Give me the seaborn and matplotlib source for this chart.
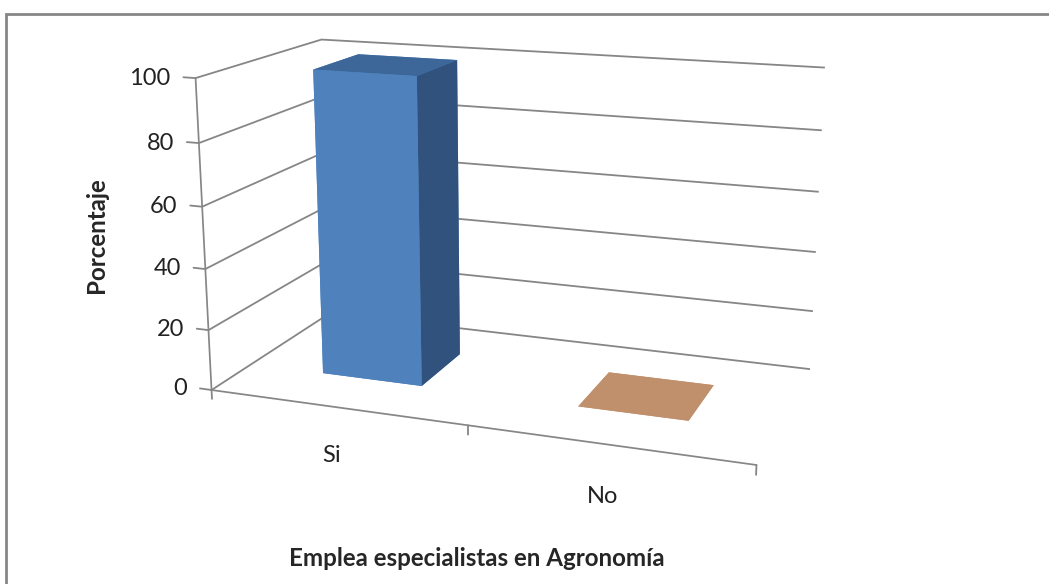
import numpy as np
import matplotlib
matplotlib.use("Agg")
import matplotlib.pyplot as plt
import seaborn as sns
from matplotlib.patches import Rectangle
from mpl_toolkits.mplot3d import proj3d

categorias = ["Si", "No"]
porcentaje = [100, 0]
ticks_z = [0, 20, 40, 60, 80, 100]
titulo_x = "Emplea especialistas en Agronomía"
titulo_y = "Porcentaje"

sns.set_theme(style="white", rc={"xtick.bottom": True, "ytick.left": True})
plt.rcParams['font.family'] = ['Lato', 'DejaVu Sans']

gris = "#868686"
texto = "#222222"
# colores por cara: -z, +z, -y(frente), +y, -x, +x(lado)
caras_si = sns.color_palette(["#4F81BD", "#3D6799", "#4F81BD", "#4F81BD", "#4F81BD", "#31527D"])
caras_no = sns.color_palette(["#C0906C"] * 6)

fig = plt.figure(figsize=(10.49, 5.84), dpi=100)
S = 673
cx, cy = 507, 239
ax = fig.add_axes([cx / 1049 - S / 2098, 1 - cy / 584 - S / 1168, S / 1049, S / 584],
                  projection='3d')
ax.set_proj_type('persp', focal_length=0.45)
ax.view_init(elev=15, azim=-70)
ax.set_box_aspect((5.6, 2.7, 3.2))

n = len(categorias)
xs = np.arange(n) - 0.2
ax.bar3d(xs, [0.31] * n, [0] * n, [0.4] * n, [0.387] * n, porcentaje,
         color=list(caras_si) + list(caras_no), shade=False, linewidth=0)

# marcas de separacion entre categorias en el borde frontal
for b in np.arange(n + 1) - 0.5:
    ax.plot([b, b], [0, 0], [0, -3], color=gris, linewidth=1.3)

ax.set_xlim(-0.5, n - 0.5)
ax.set_ylim(0, 1)
ax.set_zlim(0, 100)
ax.set_xticks(range(n))
ax.set_xticklabels([])
ax.set_yticks([])
ax.set_zticks(ticks_z)
ax.set_zticklabels([])
ax.zaxis.set_ticks_position('lower')
ax.zaxis._get_tickdir = lambda position: 0  # marcas hacia la izquierda
ax.tick_params(axis='z', color=gris)
for eje in (ax.xaxis, ax.yaxis, ax.zaxis):
    eje.label.set_visible(False)
    eje.offsetText.set_visible(False)

for eje in (ax.xaxis, ax.yaxis, ax.zaxis):
    eje.set_pane_color((1, 1, 1, 0))
    eje.pane.set_edgecolor('none')
ax.zaxis.pane.set_edgecolor(gris)
ax.zaxis.pane.set_linewidth(1.5)
ax.grid(True)
ax.xaxis._axinfo['grid'].update(linewidth=0)
ax.yaxis._axinfo['grid'].update(linewidth=0)
ax.zaxis._axinfo['grid'].update(color=gris, linewidth=1.3, linestyle='-')
ax.xaxis.line.set_color(gris)
ax.zaxis.line.set_color(gris)
ax.yaxis.line.set_color((1, 1, 1, 0))
ax.zaxis._axinfo['tick'].update(inward_factor=0, outward_factor=0.3)
ax.zaxis._axinfo['tick']['linewidth'] = {True: 1.3, False: 1.0}
ax.xaxis._axinfo['tick'].update(inward_factor=0, outward_factor=0)

# textos de los ejes colocados con la proyeccion de la propia escena 3D
M = ax.get_proj()


def en_pantalla(x, y, z):
    x2, y2, _ = proj3d.proj_transform(x, y, z, M)
    return x2, y2


for i, cat in enumerate(categorias):
    ax.text2D(*en_pantalla(i, -0.05, -14.5), cat, transform=ax.transData,
              ha='center', va='center', fontsize=17, color=texto)

for v in ticks_z:
    ax.text2D(*en_pantalla(-0.6, 0, v), f"{v}", transform=ax.transData,
              ha='right', va='center_baseline', fontsize=17, color=texto)

fig.text(96 / 1049, 1 - 235 / 584, titulo_y, rotation=90, ha='center', va='center',
         fontsize=17.4, fontweight='bold')
fig.text(477 / 1049, 1 - 558 / 584, titulo_x, ha='center', va='center',
         fontsize=17.4, fontweight='bold')
fig.patches.append(Rectangle((6 / 1049, -0.05), 1.2, 1.05 - 14 / 584, transform=fig.transFigure,
                             fill=False, edgecolor=gris, linewidth=2))

fig.savefig("out.png", dpi=100)
